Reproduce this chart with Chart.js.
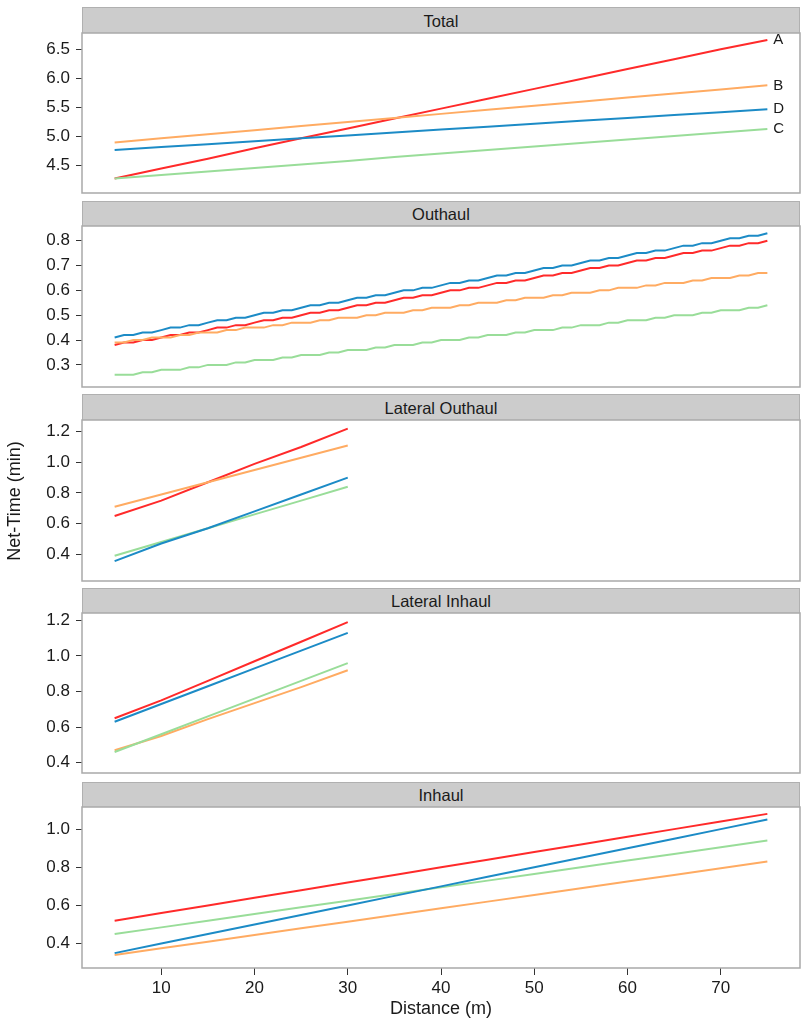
<!DOCTYPE html>
<html>
<head>
<meta charset="utf-8">
<script src="https://cdn.jsdelivr.net/npm/chart.js@4.4.0/dist/chart.umd.min.js"></script>
<style>
  body { margin: 0; background: #fff; font-family: "Liberation Sans", Arial, sans-serif; }
  #wrap { position: relative; width: 806px; height: 1024px; overflow: hidden; }
  .strip {
    position: absolute; left: 82px; width: 718px; box-sizing: border-box;
    background: #cccccc; border: 1px solid #b0b0b0; border-bottom: none;
    color: #1a1a1a; font-size: 16.5px; text-align: center;
  }
  canvas { position: absolute; left: 0; }
  .axis-title { position: absolute; color: #1a1a1a; font-size: 18px; text-align: center; line-height: 20px; height: 20px; }
</style>
</head>
<body>
<div id="wrap"></div>
<script>
// distances (m)
const distance = [5, 10, 15, 20, 25, 30, 35, 40, 45, 50, 55, 60, 65, 70, 75];
const distanceLateral = [5, 10, 15, 20, 25, 30];
const distanceFine = [5, 6, 7, 8, 9, 10, 11, 12, 13, 14, 15, 16, 17, 18, 19, 20, 21, 22, 23, 24,
    25, 26, 27, 28, 29, 30, 31, 32, 33, 34, 35, 36, 37, 38, 39, 40, 41, 42, 43, 44, 45, 46, 47, 48, 49,
    50, 51, 52, 53, 54, 55, 56, 57, 58, 59, 60, 61, 62, 63, 64, 65, 66, 67, 68, 69, 70, 71, 72, 73, 74, 75];

// Total
const totalA = [4.28, 4.45, 4.62, 4.80, 4.97, 5.14, 5.31, 5.48, 5.65, 5.82, 5.99, 6.16, 6.33, 6.50, 6.66];
const totalB = [4.90, 4.97, 5.04, 5.11, 5.18, 5.25, 5.32, 5.39, 5.46, 5.53, 5.60, 5.67, 5.74, 5.81, 5.88];
const totalC = [4.28, 4.34, 4.40, 4.46, 4.52, 4.58, 4.65, 4.71, 4.77, 4.83, 4.89, 4.95, 5.01, 5.07, 5.13];
const totalD = [4.77, 4.82, 4.87, 4.92, 4.97, 5.02, 5.07, 5.12, 5.17, 5.22, 5.27, 5.32, 5.37, 5.42, 5.47];

// Outhaul (1 m steps, values read at 0.01 resolution)
const outhaulA = [0.38, 0.39, 0.39, 0.40, 0.40, 0.41, 0.42, 0.42, 0.43, 0.43, 0.44, 0.45, 0.45, 0.46, 0.46,
    0.47, 0.48, 0.48, 0.49, 0.49, 0.50, 0.51, 0.51, 0.52, 0.52, 0.53, 0.54, 0.54, 0.55, 0.55,
    0.56, 0.57, 0.57, 0.58, 0.58, 0.59, 0.60, 0.60, 0.61, 0.61, 0.62, 0.63, 0.63, 0.64, 0.64,
    0.65, 0.66, 0.66, 0.67, 0.67, 0.68, 0.69, 0.69, 0.70, 0.70, 0.71, 0.72, 0.72, 0.73, 0.73,
    0.74, 0.75, 0.75, 0.76, 0.76, 0.77, 0.78, 0.78, 0.79, 0.79, 0.80];
const outhaulB = [0.39, 0.39, 0.40, 0.40, 0.41, 0.41, 0.41, 0.42, 0.42, 0.43, 0.43, 0.43, 0.44, 0.44, 0.45,
    0.45, 0.45, 0.46, 0.46, 0.47, 0.47, 0.47, 0.48, 0.48, 0.49, 0.49, 0.49, 0.50, 0.50, 0.51,
    0.51, 0.51, 0.52, 0.52, 0.53, 0.53, 0.53, 0.54, 0.54, 0.55, 0.55, 0.55, 0.56, 0.56, 0.57,
    0.57, 0.57, 0.58, 0.58, 0.59, 0.59, 0.59, 0.60, 0.60, 0.61, 0.61, 0.61, 0.62, 0.62, 0.63,
    0.63, 0.63, 0.64, 0.64, 0.65, 0.65, 0.65, 0.66, 0.66, 0.67, 0.67];
const outhaulC = [0.26, 0.26, 0.26, 0.27, 0.27, 0.28, 0.28, 0.28, 0.29, 0.29, 0.30, 0.30, 0.30, 0.31, 0.31,
    0.32, 0.32, 0.32, 0.33, 0.33, 0.34, 0.34, 0.34, 0.35, 0.35, 0.36, 0.36, 0.36, 0.37, 0.37,
    0.38, 0.38, 0.38, 0.39, 0.39, 0.40, 0.40, 0.40, 0.41, 0.41, 0.42, 0.42, 0.42, 0.43, 0.43,
    0.44, 0.44, 0.44, 0.45, 0.45, 0.46, 0.46, 0.46, 0.47, 0.47, 0.48, 0.48, 0.48, 0.49, 0.49,
    0.50, 0.50, 0.50, 0.51, 0.51, 0.52, 0.52, 0.52, 0.53, 0.53, 0.54];
const outhaulD = [0.41, 0.42, 0.42, 0.43, 0.43, 0.44, 0.45, 0.45, 0.46, 0.46, 0.47, 0.48, 0.48, 0.49, 0.49,
    0.50, 0.51, 0.51, 0.52, 0.52, 0.53, 0.54, 0.54, 0.55, 0.55, 0.56, 0.57, 0.57, 0.58, 0.58,
    0.59, 0.60, 0.60, 0.61, 0.61, 0.62, 0.63, 0.63, 0.64, 0.64, 0.65, 0.66, 0.66, 0.67, 0.67,
    0.68, 0.69, 0.69, 0.70, 0.70, 0.71, 0.72, 0.72, 0.73, 0.73, 0.74, 0.75, 0.75, 0.76, 0.76,
    0.77, 0.78, 0.78, 0.79, 0.79, 0.80, 0.81, 0.81, 0.82, 0.82, 0.83];

// Lateral Outhaul
const latOutA = [0.65, 0.75, 0.87, 0.99, 1.10, 1.22];
const latOutB = [0.71, 0.79, 0.87, 0.95, 1.03, 1.11];
const latOutC = [0.39, 0.48, 0.57, 0.66, 0.75, 0.84];
const latOutD = [0.355, 0.47, 0.57, 0.68, 0.79, 0.90];

// Lateral Inhaul
const latInA = [0.65, 0.75, 0.86, 0.97, 1.08, 1.19];
const latInB = [0.47, 0.55, 0.645, 0.735, 0.825, 0.92];
const latInC = [0.46, 0.56, 0.66, 0.76, 0.86, 0.96];
const latInD = [0.63, 0.73, 0.83, 0.93, 1.03, 1.13];

// Inhaul
const inhaulA = [0.52, 0.56, 0.60, 0.64, 0.68, 0.72, 0.76, 0.80, 0.84, 0.88, 0.92, 0.96, 1.00, 1.04, 1.08];
const inhaulB = [0.34, 0.375, 0.41, 0.445, 0.48, 0.515, 0.55, 0.585, 0.62, 0.655, 0.69, 0.725, 0.76, 0.795, 0.83];
const inhaulC = [0.45, 0.485, 0.52, 0.555, 0.59, 0.625, 0.66, 0.695, 0.73, 0.765, 0.80, 0.835, 0.87, 0.905, 0.94];
const inhaulD = [0.35, 0.40, 0.45, 0.50, 0.55, 0.60, 0.65, 0.70, 0.75, 0.80, 0.85, 0.90, 0.95, 1.00, 1.05];

const seriesNames = ['A', 'B', 'C', 'D'];
const seriesColors = ['#ff2a2a', '#ffab62', '#99dd99', '#1c8bc6'];

const panels = [
    {name: 'Total', x: distance, series: [totalA, totalB, totalC, totalD], yMin: 4.03, yMax: 6.78, step: 0.5},
    {name: 'Outhaul', x: distanceFine, series: [outhaulA, outhaulB, outhaulC, outhaulD], yMin: 0.211, yMax: 0.859, step: 0.1},
    {name: 'Lateral Outhaul', x: distanceLateral, series: [latOutA, latOutB, latOutC, latOutD], yMin: 0.2255, yMax: 1.276, step: 0.2},
    {name: 'Lateral Inhaul', x: distanceLateral, series: [latInA, latInB, latInC, latInD], yMin: 0.342, yMax: 1.2415, step: 0.2},
    {name: 'Inhaul', x: distance, series: [inhaulA, inhaulB, inhaulC, inhaulD], yMin: 0.272, yMax: 1.116, step: 0.2}
];

// page layout (px)
const boxes = [
    {stripTop: 7, plotTop: 33, plotBottom: 193},
    {stripTop: 201, plotTop: 226, plotBottom: 387},
    {stripTop: 394, plotTop: 420, plotBottom: 581},
    {stripTop: 588, plotTop: 613, plotBottom: 773},
    {stripTop: 782, plotTop: 807, plotBottom: 968}
];

const tickFont = {family: '"Liberation Sans", Arial, sans-serif', size: 17};

// panel frame
const framePlugin = {
    id: 'frame',
    afterDraw(chart) {
        const a = chart.chartArea, ctx = chart.ctx;
        ctx.save();
        ctx.strokeStyle = '#a9a9a9';
        ctx.lineWidth = 1.5;
        ctx.strokeRect(a.left, a.top, a.right - a.left, a.bottom - a.top);
        ctx.restore();
    }
};

// A/B/C/D labels at the line ends (Total panel only)
const endLabelPlugin = {
    id: 'endLabels',
    afterDatasetsDraw(chart, args, opts) {
        if (!opts.show) return;
        const ctx = chart.ctx;
        ctx.save();
        ctx.font = '15px "Liberation Sans", Arial, sans-serif';
        ctx.fillStyle = '#1a1a1a';
        ctx.textBaseline = 'middle';
        chart.data.datasets.forEach((ds, i) => {
            const pts = chart.getDatasetMeta(i).data;
            const last = pts[pts.length - 1];
            ctx.fillText(ds.label, last.x + 6, last.y);
        });
        ctx.restore();
    }
};

const wrap = document.getElementById('wrap');

panels.forEach((panel, p) => {
    const box = boxes[p];
    const isLast = p === panels.length - 1;
    const padTop = 18; // room for the tick label overflow Chart.js reserves
    const padBottom = isLast ? 0 : 18;
    const xAxisH = isLast ? 34 : 0;
    const plotH = box.plotBottom - box.plotTop;

    const strip = document.createElement('div');
    strip.className = 'strip';
    strip.style.top = box.stripTop + 'px';
    strip.style.height = (box.plotTop - box.stripTop) + 'px';
    strip.style.lineHeight = (box.plotTop - box.stripTop) + 'px';
    strip.textContent = panel.name;
    wrap.appendChild(strip);

    const canvas = document.createElement('canvas');
    canvas.width = 806;
    canvas.height = padTop + plotH + padBottom + xAxisH;
    canvas.style.top = (box.plotTop - padTop) + 'px';
    wrap.appendChild(canvas);

    new Chart(canvas, {
        type: 'line',
        data: {
            datasets: panel.series.map((vals, i) => ({
                label: seriesNames[i],
                data: panel.x.map((d, k) => ({x: d, y: vals[k]})),
                borderColor: seriesColors[i],
                borderWidth: 2,
                pointRadius: 0,
                fill: false,
                tension: 0,
                order: 3 - i
            }))
        },
        options: {
            responsive: false,
            maintainAspectRatio: false,
            animation: false,
            layout: {padding: {top: padTop, right: 6, bottom: padBottom, left: 0}},
            plugins: {
                legend: {display: false},
                tooltip: {enabled: false},
                endLabels: {show: p === 0}
            },
            scales: {
                x: {
                    type: 'linear',
                    min: 1.5,
                    max: 78.5,
                    display: isLast,
                    grid: {drawOnChartArea: false, drawTicks: true, tickLength: 7, tickColor: '#333'},
                    border: {display: false},
                    ticks: {stepSize: 10, includeBounds: false, color: '#1a1a1a', font: tickFont, padding: 3, maxRotation: 0},
                    afterFit(scale) { scale.height = xAxisH; }
                },
                y: {
                    min: panel.yMin,
                    max: panel.yMax,
                    grid: {drawOnChartArea: false, drawTicks: true, tickLength: 6, tickColor: '#333'},
                    border: {display: false},
                    ticks: {
                        stepSize: panel.step,
                        includeBounds: false,
                        color: '#1a1a1a',
                        font: tickFont,
                        padding: 6,
                        callback: v => Number(v).toFixed(1)
                    },
                    afterFit(scale) { scale.width = 82; }
                }
            }
        },
        plugins: [framePlugin, endLabelPlugin]
    });
});

// axis titles
const xTitle = document.createElement('div');
xTitle.className = 'axis-title';
xTitle.style.left = '341px';
xTitle.style.width = '200px';
xTitle.style.top = '998px';
xTitle.textContent = 'Distance (m)';
wrap.appendChild(xTitle);

const yTitle = document.createElement('div');
yTitle.className = 'axis-title';
yTitle.style.left = '-86px';
yTitle.style.width = '200px';
yTitle.style.top = '491px';
yTitle.style.transform = 'rotate(-90deg)';
yTitle.textContent = 'Net-Time (min)';
wrap.appendChild(yTitle);
</script>
</body>
</html>
